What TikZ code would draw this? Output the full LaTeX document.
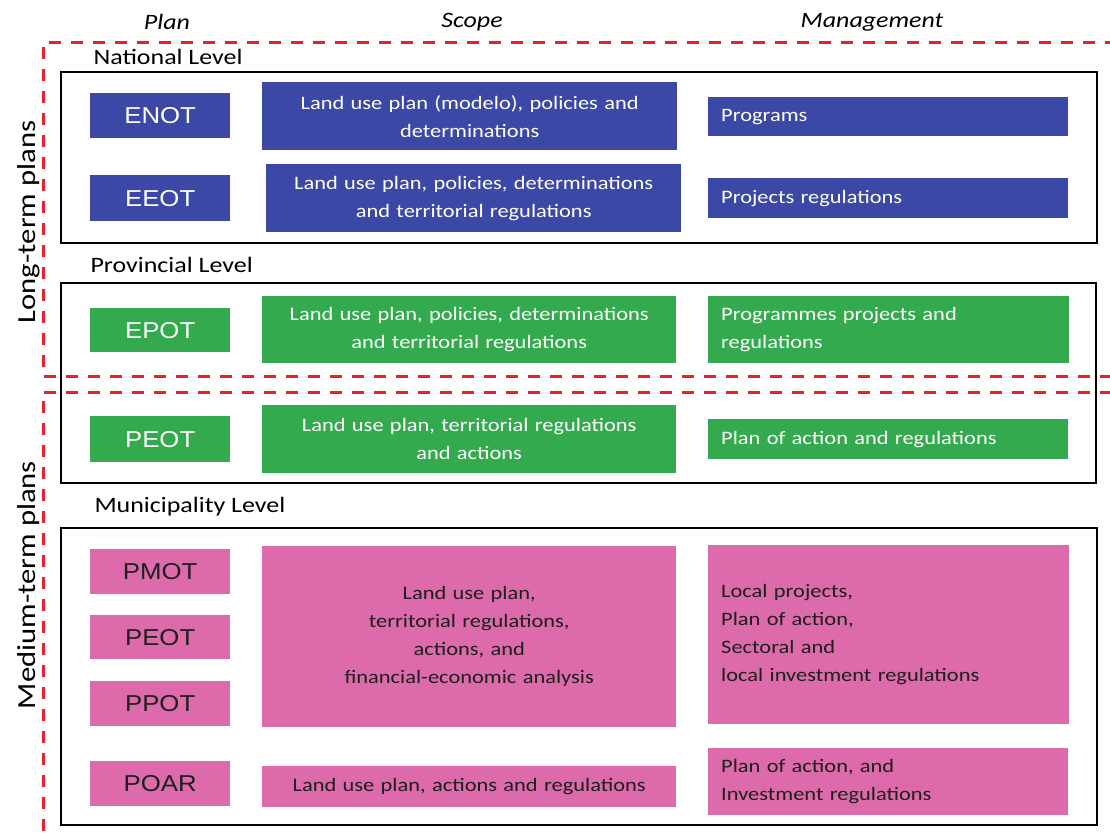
\documentclass[tikz,border=0pt]{standalone}
\usepackage{fontspec}
\setmainfont[FakeStretch=1.18]{Carlito}
\newfontfamily\arialf[FakeStretch=1.12]{Liberation Sans}

\definecolor{natblue}{RGB}{59,72,165}
\definecolor{provgreen}{RGB}{52,170,78}
\definecolor{munipink}{RGB}{221,106,170}
\definecolor{dashred}{RGB}{236,32,40}
\definecolor{inkdark}{RGB}{30,30,30}

\tikzset{
  cell/.style={anchor=north west, inner xsep=13pt, inner ysep=0pt, draw=none},
  natcell/.style={cell, fill=natblue, text=white},
  provcell/.style={cell, fill=provgreen, text=white},
  municell/.style={cell, fill=munipink, text=inkdark},
  plantext/.style={align=center, font=\arialf\fontsize{23}{28}\selectfont},
  scopetext/.style={align=center, font=\fontsize{19}{28}\selectfont},
  mgmttext/.style={align=left, font=\fontsize{19}{28}\selectfont},
  levelframe/.style={draw=black, line width=2.6pt},
  termframe/.style={draw=dashred, line width=3pt, dash pattern=on 12pt off 10pt},
  colhead/.style={font=\itshape\fontsize{22}{26}\selectfont},
  levelname/.style={anchor=west, font=\fontsize{22}{26}\selectfont},
  termname/.style={rotate=90, font=\fontsize{26}{30}\selectfont}
}

% \cellbox{name}{style}{x1}{y1}{x2}{y2}{text}
\newcommand\cellbox[7]{%
  \pgfmathsetmacro\cellw{#5-#3-26}%
  \pgfmathsetmacro\cellh{#6-#4}%
  \node[#2, text width=\cellw pt, minimum height=\cellh pt] (#1) at (#3,#4) {#7};%
}

\begin{document}
\begin{tikzpicture}[x=1pt, y=-1pt]
\useasboundingbox (0,0) rectangle (1110,832);

% column headings
\node[colhead] (hplan) at (167,22) {Plan};
\node[colhead] (hscope) at (472,22) {Scope};
\node[colhead] (hmgmt) at (872,22) {Management};

% planning horizons
\draw[termframe] (1112,376) -- (43,376) -- (43,43) -- (1112,43);
\draw[termframe] (1112,392) -- (43,392) -- (43,834);
\node[termname] (longterm) at (29,222) {Long-term plans};
\node[termname] (medterm) at (29,585) {Medium-term plans};

% administrative levels
\node[levelname] (natlevel) at (90,57) {National Level};
\node[levelname] (provlevel) at (87,265) {Provincial Level};
\node[levelname] (munilevel) at (91,507) {Municipality Level};
\draw[levelframe] (61,72) rectangle (1097,243);
\draw[levelframe] (61,283) rectangle (1096,483);
\draw[levelframe] (61,528) rectangle (1097,825);

% national
\cellbox{enot}{natcell,plantext}{90}{93}{230}{138}{ENOT}
\cellbox{eeot}{natcell,plantext}{90}{175}{230}{221}{EEOT}
\cellbox{senot}{natcell,scopetext}{262}{82}{677}{150}{Land use plan (modelo), policies and\\determinations}
\cellbox{seeot}{natcell,scopetext}{266}{164}{681}{232}{Land use plan, policies, determinations\\and territorial regulations}
\cellbox{menot}{natcell,mgmttext}{708}{97}{1068}{136}{Programs}
\cellbox{meeot}{natcell,mgmttext}{708}{178}{1068}{218}{Projects regulations}

% provincial
\cellbox{epot}{provcell,plantext}{90}{308}{230}{352}{EPOT}
\cellbox{sepot}{provcell,scopetext}{262}{296}{676}{363}{Land use plan, policies, determinations\\and territorial regulations}
\cellbox{mepot}{provcell,mgmttext}{708}{296}{1069}{363}{Programmes projects and\\regulations}
\cellbox{peot}{provcell,plantext}{90}{416}{230}{462}{PEOT}
\cellbox{speot}{provcell,scopetext}{262}{405}{676}{473}{Land use plan, territorial regulations\\and actions}
\cellbox{mpeot}{provcell,mgmttext}{708}{419}{1068}{459}{Plan of action and regulations}

% municipality
\cellbox{pmot}{municell,plantext}{90}{549}{230}{594}{PMOT}
\cellbox{mpeotb}{municell,plantext}{90}{615}{230}{659}{PEOT}
\cellbox{ppot}{municell,plantext}{90}{681}{230}{726}{PPOT}
\cellbox{poar}{municell,plantext}{90}{761}{230}{806}{POAR}
\cellbox{smuni}{municell,scopetext}{262}{546}{676}{727}{Land use plan,\\territorial regulations,\\actions, and\\financial-economic analysis}
\cellbox{spoar}{municell,scopetext}{262}{766}{676}{807}{Land use plan, actions and regulations}
\cellbox{mmuni}{municell,mgmttext}{708}{545}{1069}{724}{Local projects,\\Plan of action,\\Sectoral and\\local investment regulations}
\cellbox{mpoar}{municell,mgmttext}{708}{748}{1068}{815}{Plan of action, and\\Investment regulations}
\end{tikzpicture}
\end{document}
